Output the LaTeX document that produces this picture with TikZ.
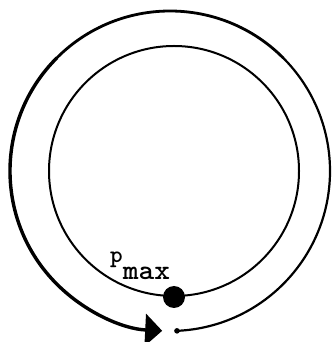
\documentclass[tikz,border=0pt]{standalone}
\usepackage{fontspec}
\usetikzlibrary{arrows.meta}
\begin{document}
\begin{tikzpicture}[x=1pt,y=1pt,
  ring/.style={line width=2pt},
  outerring/.style={line cap=round},
  lab/.style={font=\ttfamily\bfseries, inner sep=0pt}]
\useasboundingbox (0,0) rectangle (333,342);
\coordinate (ic) at (174,171);
\coordinate (oc) at (170,171);
% inner circle
\draw[ring] (ic) circle[radius=125];
% outer spiral arc
\draw[outerring, line width=2.2pt] ([shift={(-87.5:160)}]oc) coordinate (start) arc[start angle=-87.5, end angle=45, radius=160];
\draw[outerring, line width=2.8pt] ([shift={(45:160)}]oc) arc[start angle=45, end angle=135, radius=160];
\draw[line width=3.4pt, -{Triangle[length=17pt,width=32pt]}] ([shift={(135:160)}]oc) arc[start angle=135, end angle=267.2, radius=160];
% start dot
\fill (start) circle[radius=2.8];
% p_max point
\node[circle, fill=black, minimum size=22pt, inner sep=0pt] (pmax) at (174,45) {};
\node[lab, anchor=base west] (plabel) at (110,79) {\fontsize{24}{24}\selectfont p\raisebox{-17pt}{\fontsize{28}{28}\selectfont\scalebox{1.07}[1]{max}}};
\end{tikzpicture}
\end{document}
